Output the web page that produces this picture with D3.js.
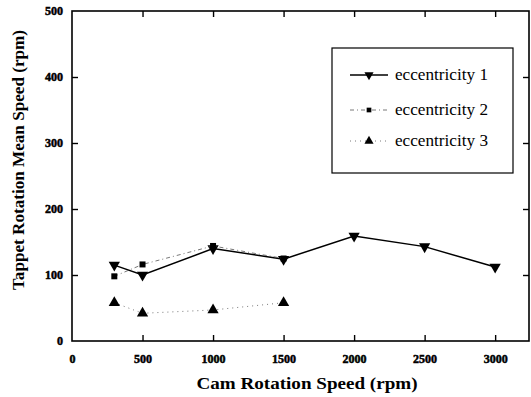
<!DOCTYPE html>
<html>
<head>
<meta charset="utf-8">
<script src="https://cdn.jsdelivr.net/npm/d3@7"></script>
<style>
  body { margin: 0; background: #fff; }
  svg { display: block; }
</style>
</head>
<body>
<script>
var w = 531, h = 397;

// data
var speed1 = [300, 500, 1000, 1500, 2000, 2500, 3000];
var ecc1 = [115, 100, 140, 124, 159, 143, 112];
var speed2 = [300, 500, 1000, 1500];
var ecc2 = [98, 116, 144, 125];
var speed3 = [300, 500, 1000, 1500];
var ecc3 = [58, 42, 47, 58];
var seriesNames = ["eccentricity 1", "eccentricity 2", "eccentricity 3"];
var xTicks = [0, 500, 1000, 1500, 2000, 2500, 3000];
var yTicks = [0, 100, 200, 300, 400, 500];

// plot frame edges (pixels)
var pLeft = 72, pRight = 529, pTop = 11, pBottom = 341;

var svg = d3.select("body").append("svg").attr("width", w).attr("height", h);

var x = d3.scaleLinear().domain([0, 3240]).range([pLeft, pRight]);
var y = d3.scaleLinear().domain([0, 500]).range([pBottom, pTop]);

// frame
svg.append("rect").attr("x", pLeft).attr("y", pTop)
  .attr("width", pRight - pLeft).attr("height", pBottom - pTop)
  .attr("fill", "none").attr("stroke", "#000").attr("stroke-width", 1.6);

// ticks pointing inward, mirrored on top/right
var xAxis = d3.axisBottom(x).tickValues(xTicks).tickSize(-6).tickPadding(13).tickFormat(d3.format("d"));
var gx = svg.append("g").attr("transform", "translate(0," + pBottom + ")").call(xAxis);
var yAxis = d3.axisLeft(y).tickValues(yTicks).tickSize(-6).tickPadding(9).tickFormat(d3.format("d"));
var gy = svg.append("g").attr("transform", "translate(" + pLeft + ",0)").call(yAxis);
var gxt = svg.append("g").attr("transform", "translate(0," + pTop + ")")
  .call(d3.axisTop(x).tickValues(xTicks.slice(1)).tickSize(-6).tickFormat(""));
var gyr = svg.append("g").attr("transform", "translate(" + pRight + ",0)")
  .call(d3.axisRight(y).tickValues(yTicks.slice(1, 5)).tickSize(-6).tickFormat(""));

[gx, gy, gxt, gyr].forEach(function (g) {
  g.select(".domain").remove();
  g.selectAll(".tick line").attr("stroke", "#000").attr("stroke-width", 1.4);
  g.selectAll(".tick text").attr("fill", "#000").attr("stroke", "#000").attr("stroke-width", 0.5)
    .style("font-family", "Liberation Serif").style("font-weight", "bold").style("font-size", "12px");
});
gx.selectAll(".tick").filter(function (d) { return d === 0; }).select("line").remove();
gy.selectAll(".tick").filter(function (d) { return d === 0 || d === 500; }).select("line").remove();

// axis titles
svg.append("text").attr("x", 307).attr("y", 389).attr("text-anchor", "middle")
  .attr("textLength", 221).attr("lengthAdjust", "spacingAndGlyphs")
  .style("font-family", "Liberation Serif").style("font-weight", "bold").style("font-size", "17px")
  .text("Cam Rotation Speed (rpm)");
svg.append("text").attr("transform", "translate(24,160) rotate(-90)").attr("text-anchor", "middle")
  .attr("textLength", 260).attr("lengthAdjust", "spacingAndGlyphs")
  .style("font-family", "Liberation Serif").style("font-weight", "bold").style("font-size", "16px")
  .text("Tappet Rotation Mean Speed (rpm)");

var series = [
  { xs: speed1, ys: ecc1, dash: null, width: 1.5, color: "#000", sym: d3.symbolTriangle, rot: 180 },
  { xs: speed2, ys: ecc2, dash: "4,3,1,3", width: 0.8, color: "#555", sym: d3.symbolSquare, rot: 0 },
  { xs: speed3, ys: ecc3, dash: "1,4", width: 0.8, color: "#555", sym: d3.symbolTriangle, rot: 0 }
];

var line = d3.line().x(function (d) { return x(d[0]); }).y(function (d) { return y(d[1]); });

series.forEach(function (s) {
  var pts = d3.zip(s.xs, s.ys);
  svg.append("path").datum(pts).attr("d", line).attr("fill", "none")
    .attr("stroke", s.color).attr("stroke-width", s.width)
    .attr("stroke-dasharray", s.dash);
  svg.selectAll(null).data(pts).enter().append("path")
    .attr("d", d3.symbol().type(s.sym).size(s.sym === d3.symbolSquare ? 36 : 55))
    .attr("transform", function (d) { return "translate(" + x(d[0]) + "," + y(d[1]) + ") rotate(" + s.rot + ")"; })
    .attr("fill", "#000");
});

// legend
var lg = svg.append("g");
lg.append("rect").attr("x", 332).attr("y", 48).attr("width", 181).attr("height", 125)
  .attr("fill", "#fff").attr("stroke", "#000").attr("stroke-width", 1.2);
var legendY = [75, 110, 141];
series.forEach(function (s, i) {
  var yy = legendY[i];
  lg.append("line").attr("x1", 350).attr("x2", 388).attr("y1", yy).attr("y2", yy)
    .attr("stroke", s.color).attr("stroke-width", s.width).attr("stroke-dasharray", s.dash);
  lg.append("path").attr("d", d3.symbol().type(s.sym).size(s.sym === d3.symbolSquare ? 22 : 36))
    .attr("transform", "translate(369," + yy + ") rotate(" + s.rot + ")").attr("fill", "#000");
  lg.append("text").attr("x", 395).attr("y", yy + 5)
    .attr("textLength", 93).attr("lengthAdjust", "spacingAndGlyphs")
    .style("font-family", "Liberation Serif").style("font-size", "16px")
    .text(seriesNames[i]);
});
</script>
</body>
</html>
